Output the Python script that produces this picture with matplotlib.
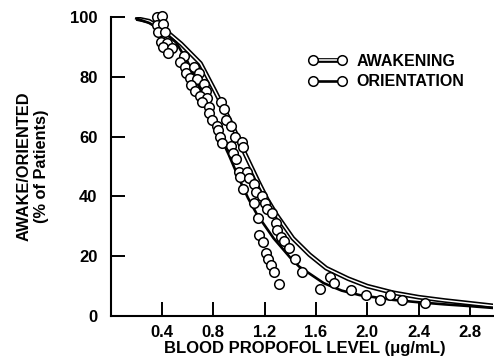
import matplotlib
matplotlib.use("Agg")
import matplotlib.pyplot as plt
import matplotlib.patheffects as pe
from matplotlib.lines import Line2D
from matplotlib.legend_handler import HandlerTuple

plt.rcParams['font.family'] = ['Liberation Sans', 'DejaVu Sans']
plt.rcParams['font.weight'] = 'bold'

# Observed patients (blood propofol level, % awake/oriented)
dose_x = [0.36, 0.40, 0.36, 0.41, 0.37, 0.42, 0.39, 0.44, 0.41, 0.48, 0.45,
          0.57, 0.54, 0.58, 0.65, 0.59, 0.69, 0.62, 0.67, 0.63, 0.73, 0.66,
          0.74, 0.70, 0.75, 0.86, 0.71, 0.77, 0.88, 0.77, 0.79, 0.90, 0.83,
          0.94, 0.84, 0.97, 0.85,
          0.87, 0.94, 1.02, 0.95, 0.98, 1.03, 1.00, 1.06, 1.01, 1.08, 1.03,
          1.12, 1.13, 1.18, 1.12, 1.20, 1.22, 1.26, 1.15, 1.29, 1.30, 1.16,
          1.33, 1.19, 1.35, 1.39, 1.21, 1.23, 1.44, 1.25, 1.27, 1.49, 1.31,
          1.71, 1.74, 1.63, 1.87,
          1.99, 2.10, 2.18, 2.27, 2.45]
pct_y = [100.1, 100.3, 97.3, 97.7, 95.1, 95.1, 91.7, 91.2, 90.1, 89.5, 88.1,
         87.0, 85.1, 83.4, 83.4, 81.4, 81.2, 79.5, 79.2, 77.3, 77.6, 75.4,
         75.4, 73.6, 73.0, 71.7, 71.7, 69.8, 69.1, 67.8, 65.6, 65.6, 63.5,
         63.5, 62.2, 60.0, 60.0,
         58.0, 56.9, 58.3, 54.4, 52.4, 56.4, 48.3, 48.3, 46.4, 46.0, 42.4,
         44.1, 41.6, 40.1, 37.9, 37.9, 35.7, 34.3, 32.7, 31.2, 28.8, 27.1,
         26.5, 24.8, 25.2, 22.6, 21.2, 19.0, 19.0, 17.1, 14.8, 14.8, 10.7,
         13.1, 10.9, 8.9, 8.7,
         7.0, 5.4, 7.0, 5.4, 4.2]

# Fitted curves
awk_x = [0.20, 0.30, 0.44, 0.55, 0.70, 0.81, 0.94, 1.05, 1.15, 1.22, 1.29,
         1.42, 1.55, 1.68, 1.85, 2.00, 2.20, 2.40, 2.60, 2.77, 2.98]
awk_y = [99.5, 98.6, 95.0, 91.0, 84.5, 75.5, 64.5, 54.0, 45.0, 39.0, 34.0,
         26.0, 20.5, 16.0, 12.5, 10.0, 7.8, 6.3, 5.2, 4.4, 3.4]
ori_x = [0.20, 0.30, 0.40, 0.51, 0.60, 0.67, 0.76, 0.85, 0.92, 1.00, 1.07,
         1.14, 1.27, 1.40, 1.47, 1.66, 1.80, 1.94, 2.20, 2.40, 2.60, 2.77, 2.98]
ori_y = [99.5, 98.0, 95.5, 91.5, 85.0, 78.5, 70.0, 60.5, 54.0, 46.0, 39.5,
         34.0, 26.0, 19.5, 16.5, 11.0, 8.5, 7.0, 5.4, 4.6, 3.9, 3.4, 2.7]

x_ticks = [0.4, 0.8, 1.2, 1.6, 2.0, 2.4, 2.8]
x_labels = ['0.4', '0.8', '1.2', '1.6', '2.0', '2.4', '2.8']
y_ticks = [0, 20, 40, 60, 80, 100]

fig = plt.figure(figsize=(4.94, 3.6), dpi=100)
ax = fig.add_axes([0.224, 0.1222, 0.774, 0.8306])

l_awk, = ax.plot(awk_x, awk_y, color='white', lw=1.1, solid_capstyle='butt',
                 path_effects=[pe.Stroke(linewidth=3.4, foreground='black'),
                               pe.Normal()], zorder=2)
l_ori, = ax.plot(ori_x, ori_y, color='black', lw=1.9, zorder=2)
ax.plot(dose_x, pct_y, ls='none', marker='o', ms=6.9, mfc='white',
        mec='black', mew=1.1, zorder=3, clip_on=False)

ax.set_xlim(0, 2.98)
ax.set_ylim(0, 100)
for s in ['top', 'right']:
    ax.spines[s].set_visible(False)
for s in ['left', 'bottom']:
    ax.spines[s].set_linewidth(1.5)

ax.set_xticks(x_ticks)
ax.set_xticklabels(x_labels)
ax.set_yticks(y_ticks)
ax.tick_params(axis='both', direction='in', length=9.8, width=1.4,
               labelsize=12)
ax.tick_params(axis='x', pad=6.5)
ax.tick_params(axis='y', pad=9.5)
for lab in ax.get_xticklabels() + ax.get_yticklabels():
    lab.set_fontweight('bold')

ax.set_xlabel('BLOOD PROPOFOL LEVEL (μg/mL)', fontsize=12,
              fontweight='bold', va='center')
ax.xaxis.set_label_coords(0.508, -0.110)
ax.set_ylabel('AWAKE/ORIENTED\n(% of Patients)', fontsize=11.8,
              fontweight='bold', va='center', ha='center', linespacing=1.2)
ax.yaxis.set_label_coords(-0.203, 0.5)

mk = Line2D([], [], ls='none', marker='o', ms=6.9, mfc='white', mec='black',
            mew=1.1)
leg = ax.legend(handles=[(l_awk, mk), (l_ori, mk)],
                labels=['AWAKENING', 'ORIENTATION'],
                handler_map={tuple: HandlerTuple(ndivide=1, pad=0)},
                numpoints=2, frameon=False, loc='center left',
                bbox_to_anchor=(0.624, 0.801), bbox_transform=fig.transFigure,
                borderpad=0, borderaxespad=0, handlelength=2.4,
                handletextpad=0.6, labelspacing=0.35,
                prop={'family': 'Liberation Sans', 'weight': 'bold',
                      'size': 11.5})

fig.savefig('out.png', dpi=100)
